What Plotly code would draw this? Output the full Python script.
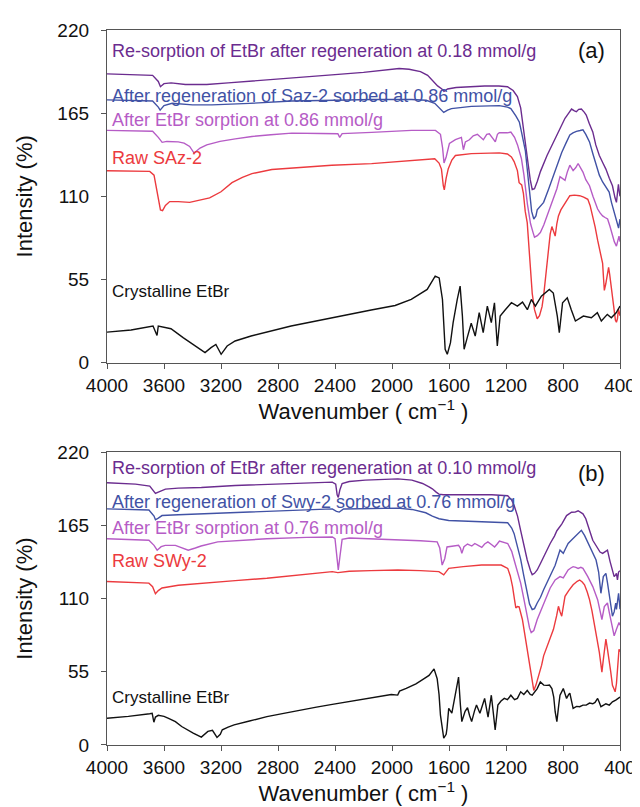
import plotly.graph_objects as go

# ---------------- Panel (a) data ----------------
a_resorp_wn = [4000, 3800, 3680, 3640, 3625, 3600, 3550, 3450, 3300, 3150, 3000, 2800, 2600, 2400, 2200, 2050, 1950, 1880,
               1800, 1750, 1710, 1680, 1650, 1635, 1610, 1550, 1450, 1350, 1250, 1190, 1150, 1120, 1097, 1070, 1050, 1030,
               1016, 1000, 980, 958, 912, 870, 843, 810, 786, 760, 740, 720, 706, 690, 671, 650, 637, 615, 591, 570, 545,
               520, 499, 475, 453, 435, 425, 418, 411, 405, 400]
a_resorp_v = [191, 190.5, 190, 186, 182.5, 184.5, 185, 184, 184, 185, 186, 187.5, 189, 190.5, 192, 193.5, 194.5, 194,
              192.5, 190, 186, 183, 181, 179.5, 181, 182, 182.5, 183, 183, 182.5, 180, 176, 168.5, 148, 133, 121,
              114.5, 115, 120, 126.5, 137, 145, 150, 157, 161.6, 165, 167.7, 166.5, 166, 167.5, 167.7, 165.5, 163.8, 158,
              152.6, 144, 137, 132, 128, 122, 117, 109, 106, 112, 118, 113, 110]

a_regen_wn = [4000, 3800, 3680, 3640, 3627, 3600, 3543, 3400, 3263, 3000, 2703, 2400, 2143, 1863, 1760, 1700, 1660, 1637,
              1610, 1583, 1443, 1300, 1247, 1190, 1166, 1130, 1106, 1090, 1064, 1040, 1020, 1005, 990, 981, 936, 900, 867,
              840, 809, 780, 752, 730, 706, 680, 660, 640, 614, 590, 568, 545, 522, 500, 476, 460, 441, 425, 410, 400]
a_regen_v = [173.8, 173.5, 173, 169, 167, 170, 171.5, 170.5, 170.5, 171.5, 173, 173.5, 174, 174, 173.5, 171.5, 168, 165.5,
             167, 168, 169.5, 170, 170, 169, 168, 163, 159, 152, 140, 118, 100, 95, 97, 101, 106, 115, 123.5,
             131, 139, 145, 150.6, 152, 153, 153.5, 154, 151, 146, 138, 130.6, 124, 119.5, 116, 112.8, 106, 99.4, 92.7, 89, 95]

a_sorp_wn = [4000, 3800, 3680, 3640, 3613, 3580, 3500, 3459, 3420, 3389, 3347, 3300, 3207, 3100, 2983, 2850, 2703, 2500,
             2380, 2367, 2350, 2143, 2000, 1863, 1695, 1660, 1645, 1635, 1620, 1597, 1555, 1513, 1499, 1485, 1457, 1430,
             1401, 1380, 1359, 1335, 1317, 1290, 1275, 1260, 1247, 1190, 1166, 1140, 1119, 1092, 1074, 1050, 1028, 1010,
             1000, 980, 959, 935, 912, 890, 867, 843, 821, 800, 786, 770, 752, 729, 710, 694, 675, 660, 640, 614, 590, 557,
             540, 522, 505, 487, 470, 453, 440, 425, 415, 407, 400]
a_sorp_v = [153.6, 153.4, 153, 149, 145.7, 146.3, 146, 145.2, 143, 138.6, 141.9, 144, 146.3, 148, 149.6, 150.7, 151.8, 151.5,
            151.4, 149, 151.5, 152.3, 153, 153.6, 153.6, 151, 142, 132, 136, 145, 147.5, 149, 140.8, 146, 147.4, 150,
            151, 149, 147.4, 151, 151.4, 148, 146, 151, 152, 152, 152.5, 149, 144, 135, 124, 105, 92, 86,
            83, 84, 86, 91, 97, 102, 108, 115, 123, 121.5, 120.5, 126, 130.6, 127, 129, 131.7, 129, 126, 121, 117, 110, 101.6,
            99, 97, 96, 95, 90, 83.7, 80, 77, 80, 83.7, 80]

a_raw_wn = [4000, 3850, 3700, 3670, 3645, 3625, 3610, 3590, 3560, 3500, 3420, 3350, 3280, 3200, 3123, 3050, 2983, 2843, 2703,
            2423, 2143, 1863, 1700, 1670, 1653, 1640, 1633, 1620, 1605, 1580, 1555, 1443, 1300, 1247, 1190, 1162, 1143, 1120,
            1108, 1090, 1078, 1065, 1051, 1035, 1016, 1000, 981, 965, 947, 935, 924, 912, 901, 890, 878, 866, 855, 843, 832,
            815, 798, 775, 752, 720, 683, 655, 626, 610, 591, 575, 557, 540, 522, 515, 510, 500, 488, 480, 472, 464, 452, 441,
            432, 425, 418, 411, 405, 400]
a_raw_v = [126.9, 126.8, 126.5, 124, 112, 101, 100.5, 104, 106.5, 106.5, 106, 107.5, 109, 113, 119, 122.5, 125, 127.7, 128.8,
           130.5, 131.6, 133.8, 134.8, 132, 128, 117, 114.3, 122, 128.3, 134, 137, 138.2, 138.7, 138.7, 138, 136, 133, 127,
           119, 117.5, 112, 100, 92.6, 70, 45.8, 35, 29, 31, 37, 45, 54.8, 66, 77, 85, 90, 87, 83.7, 92, 97,
           101, 103.6, 107, 110.4, 110.8, 110.4, 109.5, 108, 104, 97, 90, 81, 73, 65.6, 55, 47.8, 52, 60, 63, 58, 52, 42, 33.6,
           28, 26.7, 29, 35.6, 33, 31]

a_etbr_wn = [4000, 3831, 3677, 3649, 3640, 3551, 3466, 3382, 3312, 3270, 3236, 3199, 3157, 3101, 2989, 2708, 2427, 2146, 1978,
             1865, 1753, 1697, 1669, 1646, 1627, 1612, 1590, 1571, 1542, 1522, 1506, 1494, 1472, 1444, 1416, 1388, 1360, 1331,
             1303, 1281, 1261, 1241, 1205, 1162, 1120, 1084, 1050, 1022, 994, 952, 896, 868, 840, 826, 803, 770, 742, 713,
             657, 601, 559, 531, 489, 461, 427, 400]
a_etbr_v = [20.2, 21.6, 24.2, 18, 24.2, 22.4, 16.5, 11, 6.6, 9.9, 12, 5.5, 11, 14.3, 17.6, 24.2, 29.7, 34.8, 37.8,
            41.8, 48.4, 57.2, 56, 41.8, 8.8, 5.5, 13, 26.4, 41.8, 50.6, 30.8, 8.8, 16.5, 26, 17.6, 33, 19.8, 37.4,
            26.4, 39.6, 11, 30.8, 35, 39.6, 37.4, 40, 35, 41.8, 37.4, 44, 48.4, 46, 30.8, 19.8, 39.6, 42.9, 35, 27.5,
            30.8, 29.7, 33, 27.5, 31.9, 29.7, 33, 37.4]

# ---------------- Panel (b) data ----------------
b_resorp_wn = [4000, 3800, 3700, 3660, 3640, 3590, 3500, 3338, 3100, 2878, 2600, 2419, 2395, 2385, 2377, 2365, 2350, 2300, 2188,
               1959, 1860, 1786, 1740, 1717, 1690, 1671, 1640, 1602, 1500, 1400, 1300, 1188, 1160, 1143, 1119, 1097, 1074,
               1051, 1028, 1016, 1000, 981, 960, 936, 890, 860, 843, 809, 775, 740, 715, 694, 675, 660, 640, 626, 610, 591,
               557, 540, 522, 505, 488, 470, 453, 441, 430, 425, 418, 410, 400]
b_resorp_v = [197, 196, 194.5, 189, 190, 192.3, 193, 193.5, 195, 196, 197, 197.5, 196, 188, 186, 192, 196.5, 198, 199,
              200, 199, 196.5, 194, 192.5, 190, 188.5, 188, 188, 188.5, 188.5, 188, 187.3, 184, 180, 172, 161, 149,
              139, 131, 128, 129, 131.5, 136, 141.4, 151.4, 157, 161, 166, 172.4, 174.9, 175, 176, 175, 173.7, 170, 166, 160,
              153.8, 147.7, 145, 144, 145, 146.4, 138, 131.5, 126.5, 128, 129, 124, 130, 131]

b_regen_wn = [4000, 3800, 3706, 3670, 3660, 3640, 3614, 3500, 3338, 3100, 2878, 2600, 2419, 2390, 2370, 2340, 2150, 1959, 1860,
              1763, 1717, 1670, 1602, 1450, 1300, 1188, 1160, 1143, 1131, 1110, 1097, 1075, 1051, 1035, 1016, 1000, 981,
              958, 936, 890, 855, 821, 798, 780, 764, 740, 706, 690, 671, 649, 630, 614, 590, 568, 550, 534, 517, 499, 488,
              476, 465, 453, 441, 430, 425, 415, 410, 400]
b_regen_v = [177.4, 177, 176.6, 172, 169.2, 170.5, 172.4, 173, 173.7, 174.8, 175.6, 176.5, 177.4, 175.5, 175, 177.3, 177.8, 178, 177,
             174.5, 172, 170, 168.7, 168, 167.5, 167, 163, 158.8, 153.8, 145, 139.5, 127, 113, 106, 101.8, 102.5, 106.7,
             111, 116.7, 126.5, 135, 146.4, 144, 148, 151.4, 154, 157.5, 159, 161.3, 157.5, 153, 148.8, 143, 139, 130, 114,
             126.5, 129, 122, 114, 104, 96.8, 100, 106.7, 101.8, 110, 114, 102]

b_sorp_wn = [4000, 3800, 3706, 3670, 3648, 3620, 3591, 3520, 3470, 3430, 3380, 3340, 3223, 3050, 2878, 2600, 2419, 2400, 2391,
             2377, 2365, 2350, 2300, 2150, 1959, 1800, 1683, 1665, 1648, 1630, 1614, 1533, 1520, 1510, 1495, 1470, 1440, 1419,
             1395, 1370, 1350, 1327, 1300, 1280, 1262, 1246, 1188, 1160, 1143, 1120, 1097, 1075, 1051, 1035, 1023, 1005, 981,
             958, 936, 912, 890, 855, 821, 798, 780, 764, 745, 729, 710, 694, 675, 660, 626, 591, 557, 540, 527, 510, 488,
             476, 464, 453, 441, 425, 415, 407, 400]
b_sorp_v = [155, 154.5, 153.8, 150, 146.4, 149, 150, 150, 148, 146.4, 148, 149.5, 152.6, 154, 155, 156, 156.3, 155, 144,
            131.5, 142, 154.5, 155.5, 155, 154.3, 153.5, 152.6, 148, 135.2, 140, 148.8, 150, 148, 144, 149, 151, 149.5, 151.4,
            150, 148.5, 151, 152.6, 150.5, 148.8, 151, 153.3, 151.4, 145.5, 139, 131, 121.6, 110, 96.8, 88, 84.5, 86, 94.3,
            100.5, 106.7, 112.5, 118, 124, 126.5, 125.5, 129, 131.5, 133, 134, 133.5, 132.7, 133.5, 132.7, 126.5, 119, 109.2,
            102, 94.3, 104, 106.7, 100, 94.3, 88, 82, 87, 90, 92, 90]

b_raw_wn = [4000, 3850, 3706, 3680, 3660, 3640, 3614, 3500, 3338, 3100, 2878, 2650, 2419, 2380, 2300, 2150, 1959, 1800, 1700,
            1671, 1637, 1602, 1500, 1372, 1234, 1188, 1170, 1154, 1140, 1131, 1120, 1108, 1085, 1068, 1051, 1028, 1015, 1005,
            990, 970, 950, 936, 901, 867, 845, 832, 820, 809, 798, 786, 760, 729, 700, 683, 665, 649, 630, 614, 597, 580,
            562, 545, 527, 515, 499, 488, 476, 465, 453, 441, 434, 425, 418, 410, 407, 400]
b_raw_v = [122.8, 122.2, 121.6, 119, 113.7, 116, 118, 120, 121.6, 123.5, 125.3, 127.8, 130.3, 129.5, 130.5, 131, 131.5, 131, 130.8,
           130.3, 127.8, 132.7, 134, 135.2, 135.2, 132.7, 127, 119, 109, 103, 104, 103.8, 94.3, 83, 72, 54.7, 46, 41,
           45, 52, 60, 67, 77, 86.9, 97, 104.2, 100, 96.8, 104, 111.7, 116, 120.4, 123, 124, 122.5, 120.4, 115, 109.2, 101, 92,
           80, 69.6, 54.7, 66, 79.5, 72, 64.6, 55, 44.8, 41, 40, 46, 57, 70, 72, 70]

b_etbr_wn = [4000, 3850, 3700, 3683, 3671, 3660, 3640, 3600, 3568, 3520, 3476, 3430, 3395, 3338, 3292, 3260, 3228, 3205, 3191,
             3150, 3108, 3000, 2878, 2760, 2648, 2530, 2419, 2300, 2188, 2100, 2005, 1960, 1947, 1900, 1832, 1780, 1740,
             1705, 1683, 1670, 1660, 1637, 1620, 1614, 1602, 1580, 1560, 1545, 1533, 1520, 1510, 1487, 1470, 1455, 1441,
             1420, 1407, 1383, 1365, 1350, 1326, 1315, 1303, 1290, 1276, 1265, 1257, 1235, 1212, 1190, 1166, 1140, 1120,
             1097, 1075, 1051, 1030, 1016, 1000, 981, 959, 935, 913, 895, 878, 865, 855, 843, 830, 821, 798, 775, 760,
             752, 740, 729, 705, 683, 660, 637, 614, 591, 575, 557, 545, 534, 515, 499, 475, 453, 430, 407, 400]
b_etbr_v = [20.1, 21.5, 23.5, 23.8, 17.1, 21, 22.3, 21.5, 20, 17.5, 13.9, 11, 8.9, 5.9, 10.2, 11, 5.7, 8, 11.4,
            13.5, 15.1, 18, 21.3, 23.8, 26.3, 28.5, 30.5, 32.5, 34.4, 36, 37.9, 37.5, 40.5, 42.5, 46, 49.5, 52.3,
            57.2, 49.8, 38, 22.5, 5.2, 8, 12.6, 27.5, 24, 35, 45, 51, 30, 17.6, 25.3, 28, 22, 17.6,
            26, 30, 23.8, 30, 35, 21, 30, 37.4, 25, 11.4, 22, 30, 33, 35, 34, 37.4, 34, 35,
            40, 38, 41, 38, 37.4, 40, 42.4, 47.4, 45, 44.8, 45, 42.4, 36, 25, 17.6, 30, 37.4, 42.4, 35, 38,
            39, 33, 27.5, 29, 28.8, 30, 30, 31.5, 31, 32, 35, 32, 28.8, 30, 31, 30, 32.4, 33.7, 36, 36]

x_ticks = [4000, 3600, 3200, 2800, 2400, 2000, 1600, 1200, 800, 400]
y_ticks = [0, 55, 110, 165, 220]

C_PURPLE = "#6B2C8F"
C_BLUE = "#4152A5"
C_ORCHID = "#B65CC6"
C_RED = "#EC3A3E"
C_BLACK = "#111111"

labels_a = ["Re-sorption of EtBr after regeneration at 0.18 mmol/g",
            "After regeneration of Saz-2 sorbed at 0.86 mmol/g",
            "After EtBr sorption at 0.86 mmol/g",
            "Raw SAz-2",
            "Crystalline EtBr"]
labels_b = ["Re-sorption of EtBr after regeneration at 0.10 mmol/g",
            "After regeneration of Swy-2 sorbed at 0.76 mmol/g",
            "After EtBr sorption at 0.76 mmol/g",
            "Raw SWy-2",
            "Crystalline EtBr"]

FONT = "Liberation Sans, Arial, sans-serif"

fig = go.Figure()
series_a = [(a_resorp_wn, a_resorp_v, C_PURPLE), (a_regen_wn, a_regen_v, C_BLUE), (a_sorp_wn, a_sorp_v, C_ORCHID),
            (a_raw_wn, a_raw_v, C_RED), (a_etbr_wn, a_etbr_v, C_BLACK)]
series_b = [(b_resorp_wn, b_resorp_v, C_PURPLE), (b_regen_wn, b_regen_v, C_BLUE), (b_sorp_wn, b_sorp_v, C_ORCHID),
            (b_raw_wn, b_raw_v, C_RED), (b_etbr_wn, b_etbr_v, C_BLACK)]
for (wn, v, c), name in zip(series_a, labels_a):
    fig.add_trace(go.Scatter(x=wn, y=v, mode="lines", line=dict(color=c, width=1.4), name=name,
                             xaxis="x", yaxis="y", showlegend=False))
for (wn, v, c), name in zip(series_b, labels_b):
    fig.add_trace(go.Scatter(x=wn, y=v, mode="lines", line=dict(color=c, width=1.4), name=name,
                             xaxis="x2", yaxis="y2", showlegend=False))

axis_common = dict(showgrid=False, zeroline=False, showline=True, mirror=True, linecolor="#555555", linewidth=1.3,
                   ticks="outside", ticklen=5, tickcolor="#555555", tickwidth=1.3,
                   tickfont=dict(size=19, color="#111111", family=FONT))
xtitle = dict(text="Wavenumber ( cm<sup>−1</sup> )", font=dict(size=22, color="#111111", family=FONT), standoff=0)
ytitle = dict(text="Intensity (%)", font=dict(size=22, color="#111111", family=FONT), standoff=18)

fig.update_layout(
    width=640, height=807,
    margin=dict(l=99, r=19, t=19, b=70),
    paper_bgcolor="white", plot_bgcolor="white",
    font=dict(family=FONT),
    xaxis=dict(domain=[0, 1], anchor="y", range=[4000, 400], tickvals=x_ticks, title=xtitle, **axis_common),
    yaxis=dict(domain=[0.5348, 1], anchor="x", range=[0, 220], tickvals=y_ticks, title=ytitle,
               ticklabelstandoff=8, **axis_common),
    xaxis2=dict(domain=[0, 1], anchor="y2", range=[4000, 400], tickvals=x_ticks, title=xtitle, **axis_common),
    yaxis2=dict(domain=[0, 0.4095], anchor="x2", range=[0, 220], tickvals=y_ticks, title=ytitle,
                ticklabelstandoff=8, **axis_common),
)

pos_a = [0.936, 0.802, 0.729, 0.614, 0.213]
pos_b = [0.946, 0.831, 0.740, 0.628, 0.162]
colors = [C_PURPLE, C_BLUE, C_ORCHID, C_RED, C_BLACK]
for txt, yy, c in zip(labels_a, pos_a, colors):
    fig.add_annotation(text=txt, xref="x domain", yref="y domain", x=0.006, y=yy, xanchor="left", yanchor="middle",
                       showarrow=False, font=dict(size=18 if c != C_BLACK else 17, color=c, family=FONT))
for txt, yy, c in zip(labels_b, pos_b, colors):
    fig.add_annotation(text=txt, xref="x2 domain", yref="y2 domain", x=0.006, y=yy, xanchor="left", yanchor="middle",
                       showarrow=False, font=dict(size=18 if c != C_BLACK else 17, color=c, family=FONT))
fig.add_annotation(text="(a)", xref="x domain", yref="y domain", x=0.945, y=0.939, xanchor="center", yanchor="middle",
                   showarrow=False, font=dict(size=22, color="#111111", family=FONT))
fig.add_annotation(text="(b)", xref="x2 domain", yref="y2 domain", x=0.945, y=0.926, xanchor="center", yanchor="middle",
                   showarrow=False, font=dict(size=22, color="#111111", family=FONT))

fig.write_html("out.html")
